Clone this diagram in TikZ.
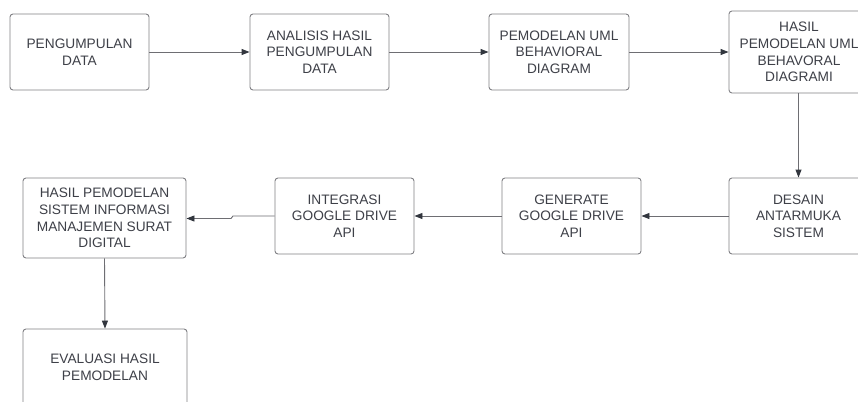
\documentclass[tikz,border=0pt]{standalone}
\usepackage{fontspec}
\setmainfont{Liberation Sans}
\usetikzlibrary{arrows.meta}
\definecolor{txt}{RGB}{62,64,72}
\definecolor{bord}{RGB}{128,128,132}
\definecolor{conn}{RGB}{110,110,115}
\definecolor{tip}{RGB}{50,54,62}
\begin{document}
\begin{tikzpicture}[x=1pt,y=1pt,
  box/.style={draw=bord,line width=0.9pt,rounded corners=3pt,fill=white,
    minimum width=139pt,minimum height=76pt,align=center,text=txt,
    font=\fontsize{13.7}{16.7}\selectfont,inner sep=0pt},
  conn/.style={draw=conn,line width=0.9pt,-{Triangle[length=8pt,width=6pt,fill=tip,color=tip]}}]
\useasboundingbox (0,0) rectangle (858,-401);
\clip (0,0) rectangle (858,-401);
\fill[white] (0,0) rectangle (858,-401);
\node[box] (b1) at (79.5,-52) {PENGUMPULAN\\DATA};
\node[box] (b2) at (319.5,-52) {ANALISIS HASIL\\PENGUMPULAN\\DATA};
\node[box,minimum width=140pt] (b3) at (559,-52) {PEMODELAN UML\\BEHAVIORAL\\DIAGRAM};
\node[box,minimum width=140pt,minimum height=82pt] (b4) at (799,-52) {HASIL\\PEMODELAN UML\\BEHAVORAL\\DIAGRAMI};
\node[box] (b5) at (798.5,-216) {DESAIN\\ANTARMUKA\\SISTEM};
\node[box] (b6) at (571.5,-216) {GENERATE\\GOOGLE DRIVE\\API};
\node[box] (b7) at (344.5,-216) {INTEGRASI\\GOOGLE DRIVE\\API};
\node[box,minimum width=163pt,minimum height=80pt] (b8) at (104.5,-218) {HASIL PEMODELAN\\SISTEM INFORMASI\\MANAJEMEN SURAT\\DIGITAL};
\node[box,minimum width=164pt] (b9) at (105,-367) {EVALUASI HASIL\\PEMODELAN};
\draw[conn] (b1.east) -- (b2.west);
\draw[conn] (b2.east) -- (b3.west);
\draw[conn] (b3.east) -- (b4.west);
\draw[conn] (b4.south -| b5) -- (b5.north);
\draw[conn] (b5.west) -- (b6.east);
\draw[conn] (b6.west) -- (b7.east);
\coordinate (j1) at (233,-216);
\coordinate (j2) at (231,-218.5);
\draw[conn] (b7.west) -- (j1) -- (j2) -- (b8.east |- j2);
\draw[conn] (b8.south) -- (b9.north);
\end{tikzpicture}
\end{document}
